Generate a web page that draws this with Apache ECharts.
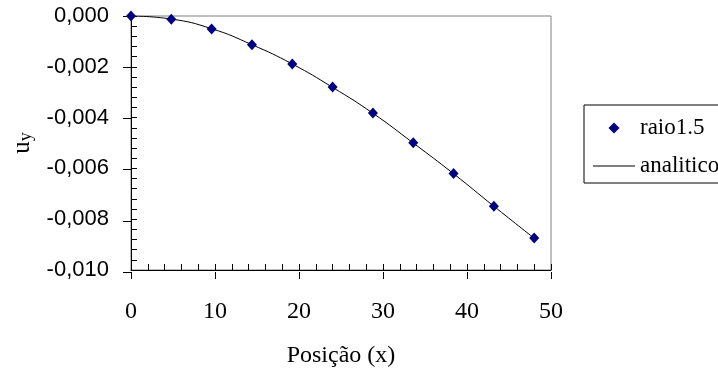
<!DOCTYPE html>
<html>
<head>
<meta charset="utf-8">
<script src="https://cdn.jsdelivr.net/npm/echarts@6/dist/echarts.min.js"></script>
<style>
html,body{margin:0;padding:0;background:#fff;}
#c{width:718px;height:373px;}
</style>
</head>
<body>
<div id="c"></div>
<script>
// Data
const positions = [0, 4.8, 9.6, 14.4, 19.2, 24, 28.8, 33.6, 38.4, 43.2, 48];
const raio15 = [0, -0.00013, -0.00051, -0.00113, -0.00189, -0.00280, -0.00382, -0.00499, -0.00620, -0.00749, -0.00874];
const analitico = [0, -0.00012, -0.00050, -0.00113, -0.00189, -0.00281, -0.00383, -0.00500, -0.00621, -0.00749, -0.00875];
const seriesNames = ['raio1.5', 'analitico'];
const xTitle = 'Posição (x)';

const serif = '"Liberation Serif", "Times New Roman", serif';
const sans = '"Liberation Sans", Arial, sans-serif';

const fmtY = v => {
  const s = Math.abs(v).toFixed(3).replace('.', ',');
  return (v < -1e-12 ? '-' : '') + s;
};

const chart = echarts.init(document.getElementById('c'), null, {renderer: 'canvas'});
const rect = {left: 131, top: 16, width: 420, height: 256};

const xBase = {type: 'value', min: 0, max: 50, interval: 10, position: 'bottom', splitLine: {show: false}};
const yBase = {type: 'value', min: -0.010, max: 0, interval: 0.002, position: 'left', splitLine: {show: false}};

chart.setOption({
  animation: false,
  backgroundColor: '#fff',
  grid: [
    Object.assign({show: true, borderColor: '#808080', borderWidth: 1, backgroundColor: '#fff'}, rect),
    Object.assign({show: false}, rect)
  ],
  legend: {
    orient: 'vertical',
    left: 584, top: 105,
    borderColor: '#000', borderWidth: 1,
    padding: [8, 30, 2, 9],
    itemWidth: 42, itemHeight: 11, itemGap: 8,
    symbolKeepAspect: true,
    textStyle: {fontFamily: serif, fontSize: 23, color: '#000', lineHeight: 30},
    data: [
      {name: seriesNames[0], icon: 'path://M0,-1L1,0L0,1L-1,0Z', itemStyle: {color: '#000080', opacity: 1}},
      {name: seriesNames[1], icon: 'path://M0,0L42,0L42,1L0,1Z', itemStyle: {color: '#000', opacity: 1}}
    ]
  },
  xAxis: [
    Object.assign({}, xBase, {
      gridIndex: 0,
      axisLine: {show: true, onZero: false, lineStyle: {color: '#000', width: 1}},
      axisTick: {show: true, inside: true, length: 6, lineStyle: {color: '#000'}},
      minorTick: {show: true, splitNumber: 5, length: 6, lineStyle: {color: '#000'}},
      axisLabel: {show: true, margin: 30, fontFamily: serif, fontSize: 24, color: '#000'},
      name: xTitle, nameLocation: 'middle', nameGap: 74,
      nameTextStyle: {fontFamily: serif, fontSize: 24, color: '#000'}
    }),
    Object.assign({}, xBase, {
      gridIndex: 1,
      axisLine: {show: false, onZero: false},
      axisTick: {show: true, inside: false, length: 7, lineStyle: {color: '#000'}},
      axisLabel: {show: false}
    })
  ],
  yAxis: [
    Object.assign({}, yBase, {
      gridIndex: 0,
      axisLine: {show: true, onZero: false, lineStyle: {color: '#000', width: 1}},
      axisTick: {show: true, inside: true, length: 6, lineStyle: {color: '#000'}},
      minorTick: {show: true, splitNumber: 5, length: 6, lineStyle: {color: '#000'}},
      axisLabel: {show: true, margin: 22, fontFamily: sans, fontSize: 22, color: '#000', formatter: fmtY},
      name: '{u|u}{s|y}', nameLocation: 'middle', nameGap: 96, nameRotate: 90,
      nameTextStyle: {
        fontFamily: serif, color: '#000',
        rich: {
          u: {fontFamily: serif, fontSize: 25, lineHeight: 25, verticalAlign: 'top', color: '#000'},
          s: {fontFamily: serif, fontSize: 18, lineHeight: 18, verticalAlign: 'bottom', color: '#000'}
        }
      }
    }),
    Object.assign({}, yBase, {
      gridIndex: 1,
      axisLine: {show: false, onZero: false},
      axisTick: {show: true, inside: false, length: 8, lineStyle: {color: '#000'}},
      axisLabel: {show: false}
    })
  ],
  series: [
    {
      name: seriesNames[0], type: 'scatter', xAxisIndex: 0, yAxisIndex: 0,
      symbol: 'diamond', symbolSize: [10, 11],
      itemStyle: {color: '#000080', opacity: 1},
      data: positions.map((x, i) => [x, raio15[i]]),
      z: 3
    },
    {
      name: seriesNames[1], type: 'line', xAxisIndex: 0, yAxisIndex: 0,
      smooth: true, symbol: 'none', showSymbol: false,
      lineStyle: {color: '#000', width: 1},
      itemStyle: {color: '#000'},
      data: positions.map((x, i) => [x, analitico[i]]),
      z: 2
    }
  ]
});
</script>
</body>
</html>
